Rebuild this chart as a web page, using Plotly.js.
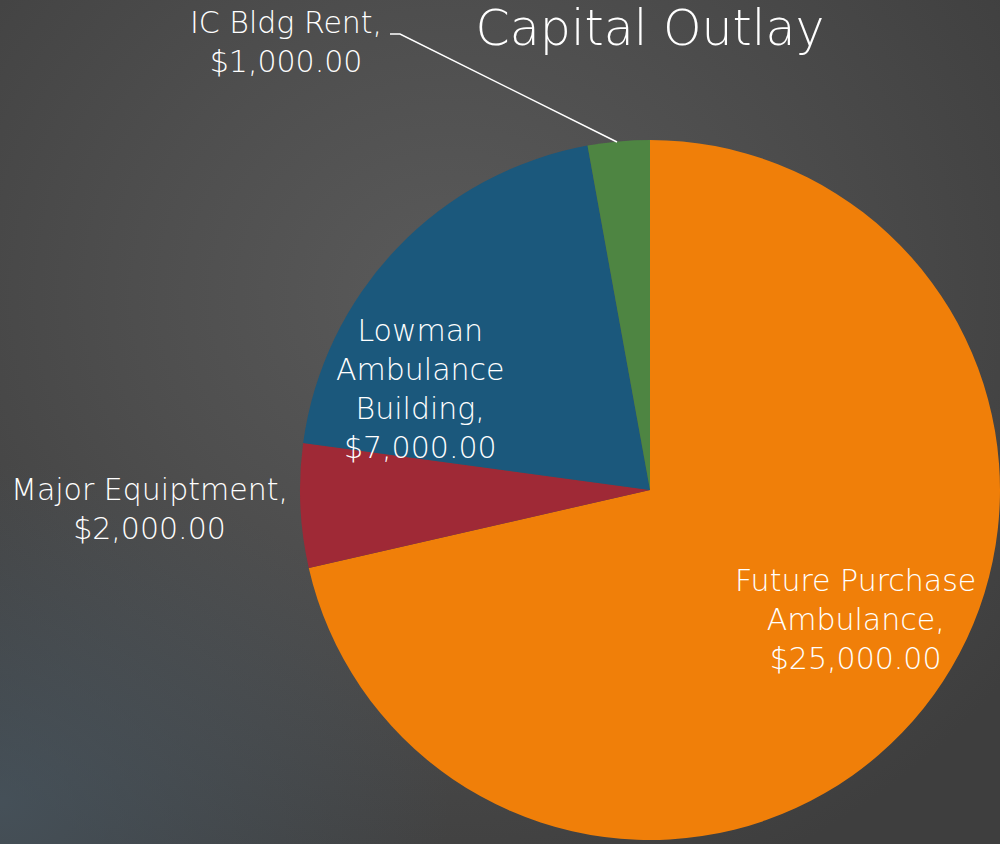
<!DOCTYPE html>
<html>
<head>
<meta charset="utf-8">
<script src="https://cdn.plot.ly/plotly-3.0.1.min.js"></script>
<style>
html,body{margin:0;padding:0;width:1000px;height:844px;overflow:hidden;}
body{
  background:
    radial-gradient(ellipse 70% 75% at 45% 35%, rgba(90,90,90,1) 0%, rgba(78,78,78,1) 45%, rgba(62,62,62,1) 100%);
}
#bg2{position:absolute;left:0;top:0;width:1000px;height:844px;
  background: radial-gradient(ellipse 45% 40% at 0% 95%, rgba(75,95,110,0.55) 0%, rgba(75,95,110,0) 100%);}
#chart{position:absolute;left:0;top:0;width:1000px;height:844px;}
</style>
</head>
<body>
<div id="bg2"></div>
<div id="chart"></div>
<script>
// Data
var categories = ["Future Purchase Ambulance", "Major Equiptment", "Lowman Ambulance Building", "IC Bldg Rent"];
var values = [25000, 2000, 7000, 1000];
var colors = ["#F07F09", "#9F2936", "#1B587C", "#4E8542"];
var titleText = "Capital Outlay";

function money(v){
  return "$" + v.toLocaleString("en-US", {minimumFractionDigits:2, maximumFractionDigits:2});
}

// label text lines (line breaks as in the picture)
var labelLines = [
  ["Future Purchase", "Ambulance,", money(values[0])],
  [categories[1] + ",", money(values[1])],
  ["Lowman", "Ambulance", "Building,", money(values[2])],
  [categories[3] + ",", money(values[3])]
];
// label centers in pixels
var labelPos = [[855, 619], [149, 509], [420, 389], [286, 42]];

var W = 1000, H = 844;
function px(x){ return x / W; }
function py(y){ return 1 - y / H; }

var font = "'DejaVu Sans ExtraLight', 'DejaVu Sans', sans-serif";
var annotations = labelLines.map(function(lines, i){
  return {
    text: lines.join("<br>"),
    x: px(labelPos[i][0]), y: py(labelPos[i][1]),
    xref: "paper", yref: "paper",
    xanchor: "center", yanchor: "middle",
    showarrow: false, align: "center",
    font: {family: font, size: 30, color: "#ffffff", weight: 200}
  };
});

var trace = {
  type: "pie",
  labels: categories,
  values: values,
  sort: false,
  direction: "clockwise",
  rotation: 0,
  marker: {colors: colors, line: {width: 0}},
  textinfo: "none",
  hoverinfo: "label+value",
  domain: {x: [px(300), px(1000)], y: [py(840), py(140)]},
  showlegend: false
};

var layout = {
  width: W, height: H,
  margin: {l:0, r:0, t:0, b:0},
  paper_bgcolor: "rgba(0,0,0,0)",
  plot_bgcolor: "rgba(0,0,0,0)",
  showlegend: false,
  title: {text: titleText, x: px(650), xanchor: "center", y: py(28), yanchor: "middle",
          font: {family: font, size: 49, color: "#ffffff", weight: 200}},
  annotations: annotations,
  shapes: [{
    type: "path", xref: "paper", yref: "paper",
    path: "M " + px(390) + "," + py(34) + " L " + px(400) + "," + py(34) + " L " + px(617) + "," + py(142),
    line: {color: "#ffffff", width: 1.5}
  }]
};

Plotly.newPlot("chart", [trace], layout, {displayModeBar: false, staticPlot: true});
</script>
</body>
</html>
